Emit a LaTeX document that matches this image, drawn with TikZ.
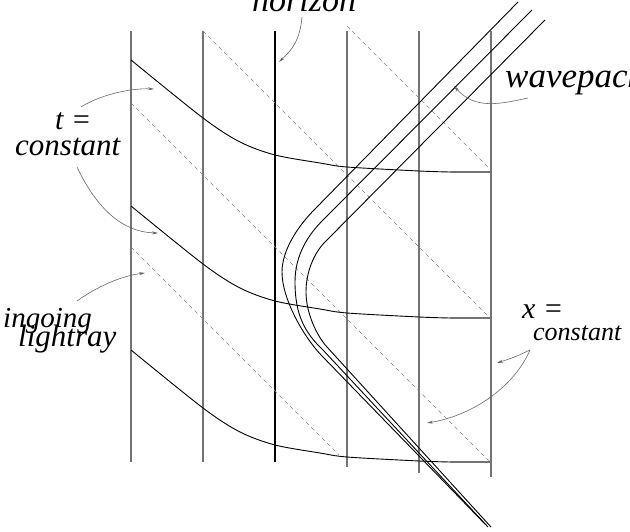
\documentclass[tikz,border=0pt]{standalone}
\usepackage{fontspec}
\setmainfont{Liberation Serif}
\usetikzlibrary{arrows.meta}
\begin{document}
\begin{tikzpicture}[x=1pt,y=-1pt,
  xline/.style={draw=black!55, line width=1.3pt},
  hline/.style={draw=black, line width=2.3pt},
  tline/.style={draw=black, line width=0.9pt},
  ray/.style={draw=black!50, line width=0.6pt, dash pattern=on 4pt off 3.5pt},
  wave/.style={draw=black, line width=0.9pt},
  pointer/.style={draw=black!60, line width=0.6pt, -{Stealth[length=6pt,width=3pt]}},
  lab/.style={inner sep=0pt, anchor=base west, font=\itshape}]
\useasboundingbox (0,0) rectangle (630,532);
% x = constant lines
\foreach \x/\b in {131/462,203/462,347/467,419/473,491/477}
  \draw[xline] (\x,31) -- (\x,\b);
% horizon
\draw[hline] (275,31) -- (275,462);
% ingoing light rays
\draw[ray] (131,103) -- (491,463);
\draw[ray] (203,31) -- (491,319);
\draw[ray] (131,247) -- (339,455);
\draw[ray] (347,26) -- (491,170);
% t = constant curves
\foreach \dy in {0,146,290}{
  \begin{scope}[shift={(0,\dy)}]
    \draw[tline] plot[smooth, tension=0.5] coordinates
      {(131,60) (203,118) (240,142) (275,155) (320,163) (347,167) (419,171) (450,172)};
    \draw[xline] (450,172) -- (491,172);
  \end{scope}
}
% wavepacket
\draw[wave] (518,2) -- (315,209) .. controls (298,226) and (282,250) .. (282,272)
  .. controls (282,300) and (305,339) .. (323,357) -- (485,524);
\draw[wave] (532,10) -- (323,220) .. controls (308,235) and (295,255) .. (295,282)
  .. controls (295,315) and (305,333) .. (323,350) -- (488,527);
\draw[wave] (545,20) -- (325,242) .. controls (314,253) and (306,272) .. (306,292)
  .. controls (306,312) and (316,335) .. (327,347) -- (491,527);
% labels
\node[lab, font=\itshape\fontsize{34}{34}\selectfont] (hor) at (252,12) {horizon};
\node[lab, font=\itshape\fontsize{35}{35}\selectfont] (wav) at (505,88) {wavepacket};
\node[lab, font=\itshape\fontsize{30}{30}\selectfont] (teq) at (55,130) {t =};
\node[lab, font=\itshape\fontsize{31}{31}\selectfont] (tco) at (15,156) {constant};
\node[lab, font=\itshape\fontsize{29}{29}\selectfont] (ing) at (3,327) {ingoing};
\node[lab, font=\itshape\fontsize{31}{31}\selectfont] (lig) at (18,346) {lightray};
\node[lab, font=\itshape\fontsize{30}{30}\selectfont] (xeq) at (522,319) {x =};
\node[lab, font=\itshape\fontsize{26}{26}\selectfont] (xco) at (533,340) {constant};
% pointers
\draw[pointer] (302,17) .. controls (300,40) and (292,50) .. (279,62);
\draw[pointer] (81,107) .. controls (100,95) and (130,88) .. (154,89);
\draw[pointer] (77,167) .. controls (95,205) and (120,232) .. (158,233);
\draw[pointer] (77,301) .. controls (95,288) and (120,276) .. (145,273);
\draw[pointer] (528,98) .. controls (500,104) and (475,110) .. (454,86);
\draw[pointer] (530,350) .. controls (515,357) .. (497,363);
\draw[pointer] (530,350) .. controls (515,385) and (475,415) .. (427,423);
\end{tikzpicture}
\end{document}
